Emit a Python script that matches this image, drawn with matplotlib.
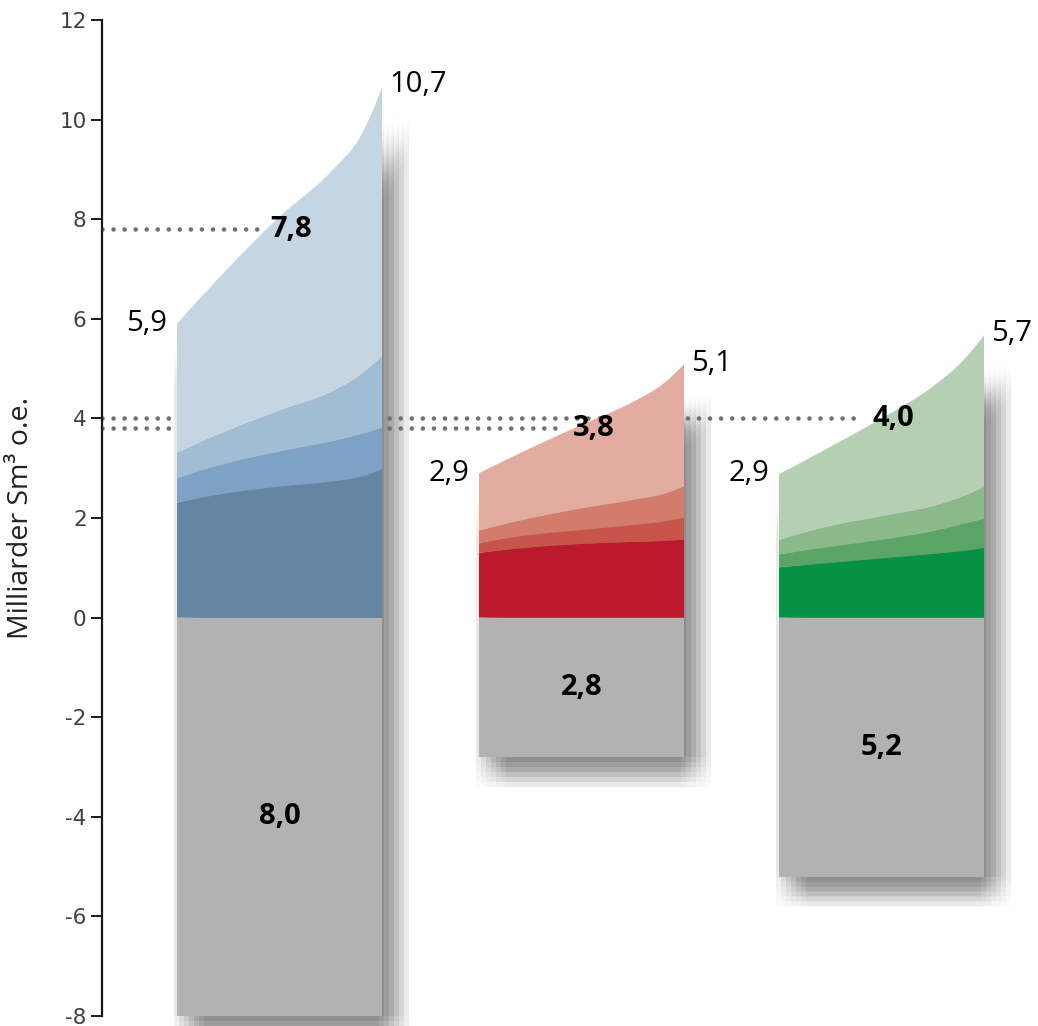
import numpy as np
import matplotlib
matplotlib.use('Agg')
from matplotlib import pyplot as plt
from matplotlib.path import Path
from matplotlib.patches import PathPatch, Rectangle

plt.rcParams['axes.unicode_minus'] = False
plt.rcParams['font.family'] = ['Open Sans', 'DejaVu Sans']

# positions along each bar (fraction of bar width) where the boundaries were read
frac = np.array([0, 0.25, 0.5, 0.75, 0.9, 1.0])

# stacked boundaries (cumulative, Milliarder Sm3 o.e.), bottom layer first
blue_b1 = [2.31, 2.50, 2.63, 2.73, 2.83, 2.98]
blue_b2 = [2.80, 3.10, 3.33, 3.53, 3.68, 3.81]
blue_b3 = [3.31, 3.75, 4.15, 4.52, 4.88, 5.24]
blue_top = [5.90, 7.02, 8.05, 8.95, 9.70, 10.65]

red_b1 = [1.30, 1.41, 1.48, 1.52, 1.54, 1.57]
red_b2 = [1.50, 1.66, 1.76, 1.86, 1.93, 2.01]
red_b3 = [1.75, 1.99, 2.19, 2.36, 2.48, 2.63]
red_top = [2.90, 3.40, 3.87, 4.33, 4.70, 5.09]

green_b1 = [1.01, 1.10, 1.19, 1.28, 1.34, 1.40]
green_b2 = [1.27, 1.42, 1.56, 1.73, 1.88, 1.98]
green_b3 = [1.56, 1.83, 2.03, 2.23, 2.43, 2.62]
green_top = [2.88, 3.43, 4.00, 4.64, 5.17, 5.67]

below_vals = [8.0, 2.8, 5.2]
start_vals = [5.9, 2.9, 2.9]
end_vals = [10.7, 5.1, 5.7]
mid_vals = [7.8, 3.8, 4.0]

start_labels = ['5,9', '2,9', '2,9']
end_labels = ['10,7', '5,1', '5,7']
mid_labels = ['7,8', '3,8', '4,0']
below_labels = ['8,0', '2,8', '5,2']

yticks = [-8, -6, -4, -2, 0, 2, 4, 6, 8, 10, 12]

layers = [
    [blue_b1, blue_b2, blue_b3, blue_top],
    [red_b1, red_b2, red_b3, red_top],
    [green_b1, green_b2, green_b3, green_top],
]
colors = [
    ['#6386a5', '#7ea2c5', '#a0bdd4', '#c5d5e2'],
    ['#bc1a2c', '#c9544a', '#d47c6c', '#e3aca0'],
    ['#069245', '#58a566', '#8ab98a', '#b5cfb2'],
]
grey = '#b2b2b2'

bar_left = [0.75, 3.77, 6.77]
bar_w = 2.05


def curve(xs, ys):
    xs = np.asarray(xs, float)
    ys = np.asarray(ys, float)
    m = np.gradient(ys, xs, edge_order=2)
    verts = [(xs[0], ys[0])]
    codes = [Path.MOVETO]
    for i in range(len(xs) - 1):
        h = xs[i + 1] - xs[i]
        verts += [(xs[i] + h / 3, ys[i] + m[i] * h / 3),
                  (xs[i + 1] - h / 3, ys[i + 1] - m[i + 1] * h / 3),
                  (xs[i + 1], ys[i + 1])]
        codes += [Path.CURVE4] * 3
    return verts, codes


def band(xs, upper, lower):
    v1, c1 = curve(xs, upper)
    v2, c2 = curve(xs[::-1], lower[::-1])
    c2[0] = Path.LINETO
    verts = v1 + v2 + [v1[0]]
    codes = c1 + c2 + [Path.CLOSEPOLY]
    return Path(verts, codes)


fig = plt.figure(figsize=(10.38, 10.26), dpi=100)
ax = fig.add_axes([102 / 1038, 10 / 1026, 936 / 1038, 996 / 1026])
ax.set_xlim(0, 9.36)
ax.set_ylim(-8, 12)

for i in range(3):
    xs = bar_left[i] + frac * bar_w
    top = np.array(layers[i][-1])
    bottom = np.full(len(xs), -below_vals[i])
    # blurred drop shadow: many offset copies of the outline
    for ox in np.linspace(-0.15, 0.15, 7):
        for oy in np.linspace(-0.3, 0.3, 7):
            p = band(xs + 0.12 + ox, top - 0.9 + oy, bottom - 0.3 + oy)
            ax.add_patch(PathPatch(p, facecolor='black', edgecolor='none',
                                   alpha=0.011, zorder=1, clip_on=False))
    # wide faint glow
    for ox in np.linspace(-0.45, 0.45, 9):
        for oy in np.linspace(-0.9, 0.9, 9):
            p = band(xs + ox, top + oy, bottom + oy)
            ax.add_patch(PathPatch(p, facecolor='black', edgecolor='none',
                                   alpha=0.0008, zorder=0.5, clip_on=False))

    lower = np.zeros(len(xs))
    for k, upper in enumerate(layers[i]):
        upper = np.array(upper)
        ax.add_patch(PathPatch(band(xs, upper, lower), facecolor=colors[i][k],
                               edgecolor='none', zorder=3))
        lower = upper
    ax.add_patch(Rectangle((bar_left[i], -below_vals[i]), bar_w, below_vals[i],
                           facecolor=grey, edgecolor='none', zorder=3, clip_on=False))

    cx = bar_left[i] + bar_w / 2
    ax.text(bar_left[i] - 0.1, start_vals[i], start_labels[i], ha='right',
            va='center', fontsize=21, color='black', zorder=5)
    ax.text(bar_left[i] + bar_w + 0.07, end_vals[i], end_labels[i], ha='left',
            va='center', fontsize=21, color='black', zorder=5)
    ax.text(cx + 0.12, mid_vals[i], mid_labels[i], ha='center', va='center',
            fontsize=21, fontweight='bold', color='black', zorder=5)
    ax.text(cx, -below_vals[i] / 2, below_labels[i], ha='center', va='center',
            fontsize=21, fontweight='bold', color='black', zorder=5)
    ax.plot([0, cx + 0.12 - 0.31], [mid_vals[i], mid_vals[i]], color='#707070',
            lw=3.3, linestyle=(0, (0.01, 2.4)), dash_capstyle='round', zorder=2)

for s in ['top', 'right', 'bottom']:
    ax.spines[s].set_visible(False)
ax.spines['left'].set_linewidth(1.6)
ax.spines['left'].set_color('#1a1a1a')
ax.spines['left'].set_zorder(6)
ax.set_xticks([])
ax.set_yticks(yticks)
ax.set_yticklabels([str(t) for t in yticks], family='Liberation Sans Narrow')
ax.tick_params(axis='y', length=8, width=1.4, color='#1a1a1a', labelsize=15.5,
               labelcolor='#404040', pad=3)
ax.set_ylabel('Milliarder Sm³ o.e.', fontsize=20.5, color='#222222')
ax.yaxis.set_label_coords(-0.072, 0.5)
ax.patch.set_alpha(0)

fig.savefig('out.png', dpi=100)
